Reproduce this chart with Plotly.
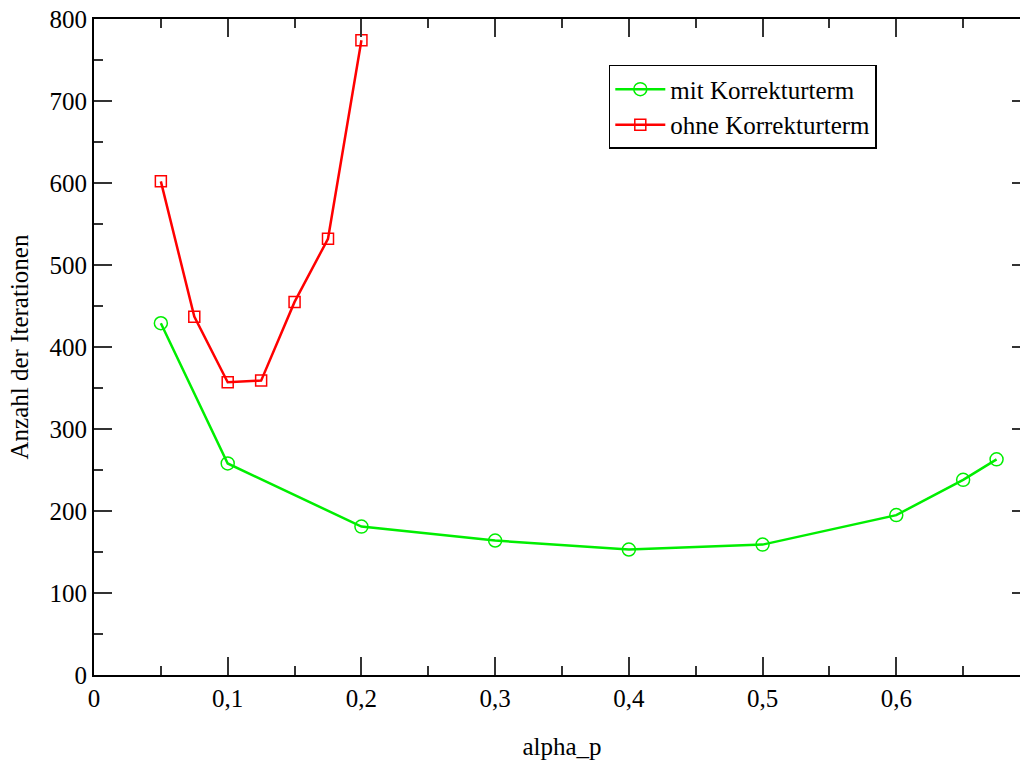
import plotly.graph_objects as go

# Data
x_mit = [0.05, 0.1, 0.2, 0.3, 0.4, 0.5, 0.6, 0.65, 0.675]
y_mit = [429, 258, 181, 164, 153, 159, 195, 238, 263]
x_ohne = [0.05, 0.075, 0.1, 0.125, 0.15, 0.175, 0.2]
y_ohne = [602, 437, 357, 359, 455, 532, 774]

FONT = "Liberation Serif, Times New Roman, serif"

fig = go.Figure()
fig.add_trace(go.Scatter(
    x=x_mit, y=y_mit, mode="lines+markers", name="mit Korrekturterm",
    line=dict(color="#00ee00", width=2.5),
    marker=dict(symbol="circle-open", size=13, color="#00ee00", line=dict(width=1.5)),
))
fig.add_trace(go.Scatter(
    x=x_ohne, y=y_ohne, mode="lines+markers", name="ohne Korrekturterm",
    line=dict(color="#ff0000", width=2.5),
    marker=dict(symbol="square-open", size=11, color="#ff0000", line=dict(width=1.5)),
))

axis_common = dict(
    showgrid=False, zeroline=False, showline=True, linecolor="black", linewidth=2,
    mirror="ticks", ticks="inside", tickcolor="#333", tickwidth=2, ticklen=18,
    tickfont=dict(family=FONT, size=25, color="black"), automargin=False,
)

fig.update_xaxes(
    range=[0, 0.7], dtick=0.1, tick0=0,
    minor=dict(dtick=0.05, ticks="inside", ticklen=9, tickcolor="#333", tickwidth=2),
    title=dict(text="alpha_p", font=dict(family=FONT, size=25, color="black"), standoff=26),
    **axis_common,
)
fig.update_yaxes(
    range=[0, 800], dtick=100, tick0=0,
    minor=dict(dtick=50, ticks="inside", ticklen=9, tickcolor="#333", tickwidth=2),
    title=dict(text="Anzahl der Iterationen", font=dict(family=FONT, size=25, color="black"), standoff=14),
    **axis_common,
)

fig.update_layout(
    width=1040, height=762,
    margin=dict(l=94, r=10, t=19, b=87),
    plot_bgcolor="white", paper_bgcolor="white",
    separators=",.",
    showlegend=True,
    legend=dict(
        x=0.550, y=0.930, xanchor="left", yanchor="top",
        bgcolor="white", bordercolor="black", borderwidth=1.5,
        font=dict(family=FONT, size=25, color="black"),
        tracegroupgap=0, itemwidth=50,
    ),
    font=dict(family=FONT),
)

fig.write_html(
    "out.html",
    config={"displayModeBar": False},
    post_script="document.body.style.margin='0';document.body.style.overflow='hidden';",
)
